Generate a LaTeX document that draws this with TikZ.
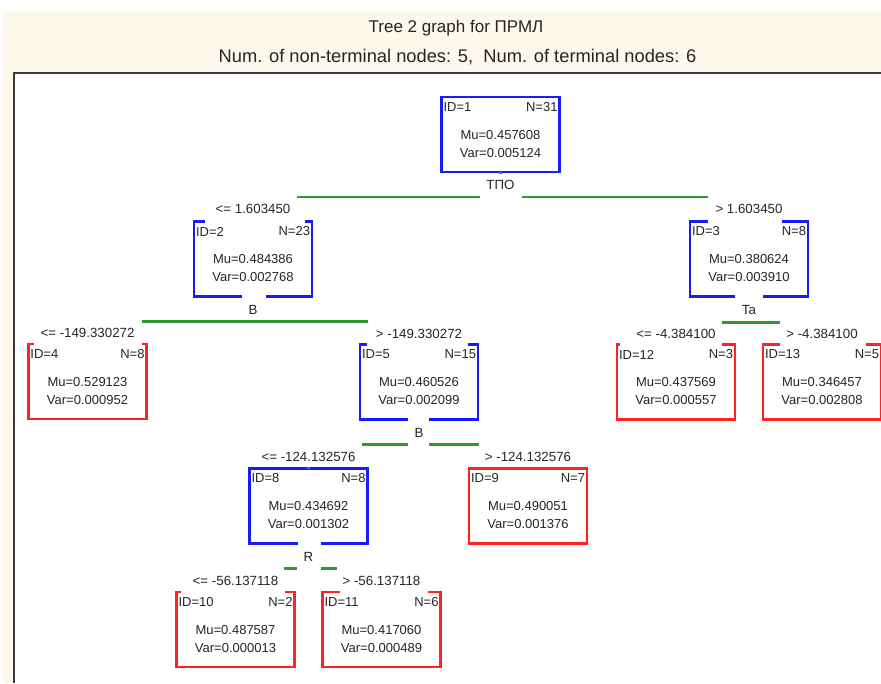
\documentclass[tikz,border=0pt]{standalone}
\usepackage{fontspec}
\setmainfont{Liberation Sans}
\usetikzlibrary{calc}

\definecolor{panelbg}{HTML}{FDF8EC}
\definecolor{framegray}{HTML}{3A3A3A}
\definecolor{splitblue}{HTML}{1A1AFF}
\definecolor{leafred}{HTML}{FF2222}
\definecolor{railgreen}{HTML}{2E9A2E}
\definecolor{ink}{HTML}{262626}

% frame of a tree node: #1 node, #2 colour, #3/#4 top-left/top-right tick lengths,
% #5/#6 start/end (from the west side) of the gap in the bottom edge
\newcommand\nodeframe[6]{%
  \draw[#2] ($(#1.north west)+(#3,0)$) -- (#1.north west) -- (#1.south west) -- ($(#1.south west)+(#5,0)$);
  \draw[#2] ($(#1.north east)+(-#4,0)$) -- (#1.north east) -- (#1.south east) -- ($(#1.south west)+(#6,0)$);
}

% text of a tree node: #1 node, #2 id, #3 N, #4 Mu, #5 Var
\newcommand\nodetext[5]{%
  \node[cell, anchor=west] (#1id) at ($(#1.north west)+(2,10)$) {ID=#2};
  \node[cell, anchor=east] (#1n)  at ($(#1.north east)+(-2,10)$) {N=#3};
  \node[cell] (#1mu)  at ($(#1.north)+(0,38)$) {Mu=#4};
  \node[cell] (#1var) at ($(#1.north)+(0,56)$) {Var=#5};
}

\begin{document}
\begin{tikzpicture}[x=1pt,y=-1pt,
  every node/.style={inner sep=0pt, outer sep=0pt, text=ink},
  cell/.style={font=\fontsize{13}{15}\selectfont},
  cond/.style={font=\fontsize{13.3}{15}\selectfont},
  title/.style={font=\fontsize{17}{20}\selectfont},
  subtitle/.style={font=\fontsize{18.3}{21}\selectfont},
  box/.style={minimum width=118pt, minimum height=75pt},
  splitframe/.style={draw=splitblue, line width=2.2pt},
  leafframe/.style={draw=leafred, line width=2.2pt},
  rail/.style={draw=railgreen, line width=2.2pt},
]
\useasboundingbox (0,0) rectangle (881,683);

% window background and plot frame
\fill[panelbg] (3,12) rectangle (881,683);
\fill[white] (14,73) rectangle (881,683);
\draw[framegray, line width=2.2pt] (14,683) -- (14,73) -- (881,73);

% heading
\node[title] (head) at (456,28) {Tree 2 graph for ПРМЛ};
\node[subtitle] (sub) at (457.5,57) {Num. of non-terminal nodes: 5,\ \ Num. of terminal nodes: 6};

% tree node boxes
\node[box] (b1)  at (500.5,134.5) {};
\node[box] (b2)  at (253,259) {};
\node[box] (b3)  at (749,259) {};
\node[box] (b4)  at (87.5,381.5) {};
\node[box] (b5)  at (419,382) {};
\node[box] (b12) at (676,382) {};
\node[box] (b13) at (822,382) {};
\node[box] (b8)  at (308.5,506) {};
\node[box] (b9)  at (528,506) {};
\node[box] (b10) at (235.5,629.5) {};
\node[box] (b11) at (381.5,629.5) {};

% frames
\nodeframe{b1}{splitframe}{59}{59}{59}{59}
\nodeframe{b2}{splitframe}{11}{7}{48}{72}
\nodeframe{b3}{splitframe}{18}{26}{45}{73}
\nodeframe{b5}{splitframe}{7}{10}{48}{69}
\nodeframe{b8}{splitframe}{59}{59}{48.5}{71.5}
\nodeframe{b4}{leafframe}{5}{5}{59}{59}
\nodeframe{b12}{leafframe}{3}{13}{59}{59}
\nodeframe{b13}{leafframe}{17}{15}{59}{59}
\nodeframe{b9}{leafframe}{59}{59}{59}{59}
\nodeframe{b10}{leafframe}{4}{10}{59}{59}
\nodeframe{b11}{leafframe}{17}{13}{59}{59}

% node contents
\nodetext{b1}{1}{31}{0.457608}{0.005124}
\nodetext{b2}{2}{23}{0.484386}{0.002768}
\nodetext{b3}{3}{8}{0.380624}{0.003910}
\nodetext{b4}{4}{8}{0.529123}{0.000952}
\nodetext{b5}{5}{15}{0.460526}{0.002099}
\nodetext{b12}{12}{3}{0.437569}{0.000557}
\nodetext{b13}{13}{5}{0.346457}{0.002808}
\nodetext{b8}{8}{8}{0.434692}{0.001302}
\nodetext{b9}{9}{7}{0.490051}{0.001376}
\nodetext{b10}{10}{2}{0.487587}{0.000013}
\nodetext{b11}{11}{6}{0.417060}{0.000489}

% split variables below the non-terminal nodes
\node[cond] (s1) at ($(b1.south)+(0,13)$) {ТПО};
\node[cond] (s2) at ($(b2.south)+(0,13)$) {B};
\node[cond] (s3) at ($(b3.south)+(0,13)$) {Ta};
\node[cond] (s5) at ($(b5.south)+(0,13)$) {B};
\node[cond] (s8) at ($(b8.south)+(0,13)$) {R};

% split conditions above the child nodes
\node[cond] (c2)  at ($(b2.north)+(0,-13)$)  {<= 1.603450};
\node[cond] (c3)  at ($(b3.north)+(0,-13)$)  {> 1.603450};
\node[cond] (c4)  at ($(b4.north)+(0,-11)$)  {<= -149.330272};
\node[cond] (c5)  at ($(b5.north)+(0,-11)$)  {> -149.330272};
\node[cond] (c12) at ($(b12.north)+(0,-11)$) {<= -4.384100};
\node[cond] (c13) at ($(b13.north)+(0,-11)$) {> -4.384100};
\node[cond] (c8)  at ($(b8.north)+(0,-12)$)  {<= -124.132576};
\node[cond] (c9)  at ($(b9.north)+(0,-12)$)  {> -124.132576};
\node[cond] (c10) at ($(b10.north)+(0,-11)$) {<= -56.137118};
\node[cond] (c11) at ($(b11.north)+(0,-11)$) {> -56.137118};

% green branch rails
\coordinate (r1) at ($(b1.south)+(0,25)$);
\draw[rail] ($(r1)+(-203.5,0)$) -- ($(r1)+(-20.5,0)$);
\draw[rail] ($(r1)+(21.5,0)$) -- ($(r1)+(207.5,0)$);
\draw[rail] (b1.south) -- ++(0,2);
\coordinate (r2) at ($(b2.south)+(0,25)$);
\draw[rail] ($(r2)+(-111,0)$) -- ($(r2)+(115,0)$);
\coordinate (r3) at ($(b3.south)+(0,26)$);
\draw[rail] ($(r3)+(-27,0)$) -- ($(r3)+(31,0)$);
\coordinate (r5) at ($(b5.south)+(0,25)$);
\draw[rail] ($(r5)+(-57,0)$) -- ($(r5)+(-11,0)$);
\draw[rail] ($(r5)+(10,0)$) -- ($(r5)+(60,0)$);
\coordinate (r8) at ($(b8.south)+(0,25)$);
\draw[rail] ($(r8)+(-24.5,0)$) -- ($(r8)+(-11.5,0)$);
\draw[rail] ($(r8)+(12.5,0)$) -- ($(r8)+(28.5,0)$);
\draw[rail] (b8.north) -- ++(0,-2);
\end{tikzpicture}
\end{document}
